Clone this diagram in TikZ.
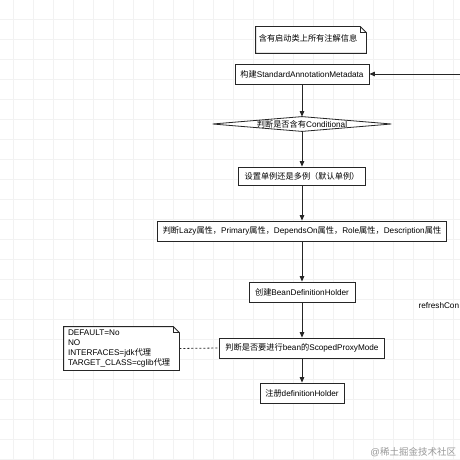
\documentclass[tikz,border=0pt]{standalone}
\usepackage{fontspec}
\setmainfont{Liberation Sans}
\newfontfamily\cjk{Noto Sans CJK SC}
\newcommand{\zh}[1]{{\cjk #1}}
\usepackage{tikz}
\usetikzlibrary{arrows.meta,calc}
\colorlet{gridGray}{black!5}
\colorlet{lineDark}{black!85}

\begin{document}
\begin{tikzpicture}[x=1pt,y=-1pt,>={Triangle[length=5.5pt,width=4.5pt]},line width=0.8pt,
    font=\fontsize{8.2}{9.7}\selectfont]
            \tikzset{
                stepbox/.style={
                    draw=lineDark,
                    fill=white,
                    inner sep=0pt,
                    minimum height=20pt,
                    align=center
                },
                notebox/.style={
                    inner sep=0pt,
                    align=left
                }
            }

            \useasboundingbox (0,0) rectangle (460,460);
            \fill[white] (0,0) rectangle (460,460);

            % background grid
            \foreach \gx in {13,33,...,453}
                \draw[gridGray,line width=0.5pt] (\gx,0) -- (\gx,460);
            \foreach \gy in {19,39,...,459}
                \draw[gridGray,line width=0.5pt] (0,\gy) -- (460,\gy);

            % top note
            \node[notebox,minimum width=110pt,minimum height=26pt] (N_Info) at (311,40) {};
            \draw[lineDark,fill=white]
                (N_Info.north west) -- ($(N_Info.north east)+(-6pt,0)$)
                -- ($(N_Info.north east)+(0,-6pt)$) -- (N_Info.south east)
                -- (N_Info.south west) -- cycle;
            \draw[lineDark]
                ($(N_Info.north east)+(-6pt,0)$) -- ($(N_Info.north east)+(-6pt,-6pt)$)
                -- ($(N_Info.north east)+(0,-6pt)$);
            \node (N_InfoText) at ($(N_Info)+(-3pt,2pt)$) {\zh{含有启动类上所有注解信息}};

            % main flow
            \node[stepbox,minimum width=134pt] (S_Meta) at (302,74)
                {\zh{构建}StandardAnnotationMetadata};

            \node[inner sep=0pt,minimum width=178pt,minimum height=14pt] (S_Cond) at (302,124) {};
            \draw[lineDark,fill=white]
                (S_Cond.west) -- (S_Cond.north) -- (S_Cond.east) -- (S_Cond.south) -- cycle;
            \node (S_CondText) at (S_Cond) {\zh{判断是否含有}Conditional};

            \node[stepbox,minimum width=127pt,minimum height=18pt] (S_Scope) at (302,176)
                {\zh{设置单例还是多例（默认单例）}};
            \node[stepbox,minimum width=289pt] (S_Attr) at (302,231)
                {\zh{判断}Lazy\zh{属性，}Primary\zh{属性，}DependsOn\zh{属性，}Role\zh{属性，}Description\zh{属性}};
            \node[stepbox,minimum width=106pt] (S_Holder) at (302,292)
                {\zh{创建}BeanDefinitionHolder};
            \node[stepbox,minimum width=165pt] (S_Proxy) at (302,348)
                {\zh{判断是否要进行}bean\zh{的}ScopedProxyMode};
            \node[stepbox,minimum width=84pt] (S_Reg) at (302,393)
                {\zh{注册}definitionHolder};

            % proxy mode note
            \node[notebox,minimum width=115pt,minimum height=43pt] (N_Mode) at (121.5,348.5) {};
            \draw[lineDark,fill=white]
                (N_Mode.north west) -- ($(N_Mode.north east)+(-6pt,0)$)
                -- ($(N_Mode.north east)+(0,-6pt)$) -- (N_Mode.south east)
                -- (N_Mode.south west) -- cycle;
            \draw[lineDark]
                ($(N_Mode.north east)+(-6pt,0)$) -- ($(N_Mode.north east)+(-6pt,-6pt)$)
                -- ($(N_Mode.north east)+(0,-6pt)$);
            \node[notebox,text width=107pt,anchor=west] (N_ModeText) at ($(N_Mode.west)+(4pt,0)$)
                {DEFAULT=No\\NO\\INTERFACES=jdk\zh{代理}\\TARGET\_CLASS=cglib\zh{代理}};

            % side texts
            \node[anchor=east,inner sep=0pt] (T_Refresh) at (459.5,306) {refreshCon};
            \node[anchor=west,inner sep=0pt,text=black!40,font=\fontsize{9.5}{11}\selectfont]
                (T_Mark) at (370,452) {@\zh{稀土掘金技术社区}};

            % connectors
            \coordinate (C_In) at (460,74);
            \draw[->,lineDark] (C_In) -- (S_Meta.east);
            \draw[->,lineDark] (S_Meta) -- (S_Cond.north);
            \draw[->,lineDark] (S_Cond.south) -- (S_Scope);
            \draw[->,lineDark] (S_Scope) -- (S_Attr);
            \draw[->,lineDark] (S_Attr) -- (S_Holder);
            \draw[->,lineDark] (S_Holder) -- (S_Proxy);
            \draw[->,lineDark] (S_Proxy) -- (S_Reg);
            \draw[lineDark,dash pattern=on 2pt off 2pt] (N_Mode.east) -- (S_Proxy.west);
        \end{tikzpicture}
\end{document}
